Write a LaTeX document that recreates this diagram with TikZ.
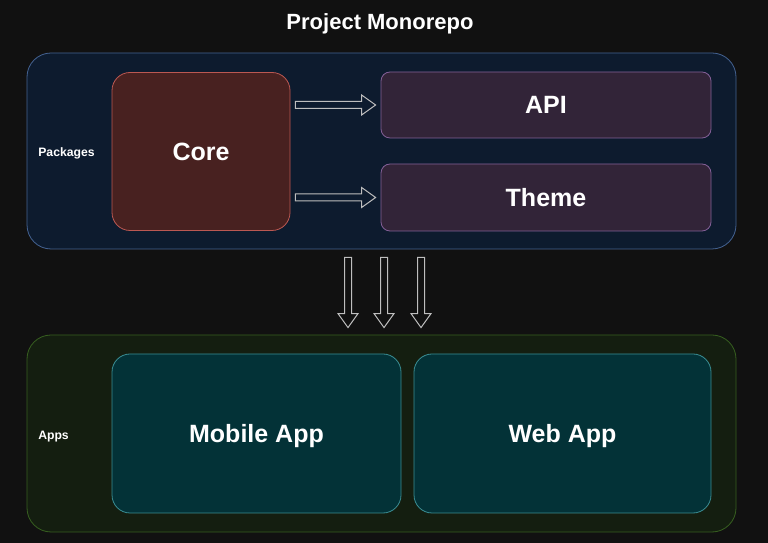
\documentclass[tikz,border=0pt]{standalone}
\usepackage{fontspec}
\setmainfont{Liberation Sans}
\usepackage{tikz}
\usepackage{xcolor}
\usetikzlibrary{arrows.meta,positioning,calc}
\definecolor{bgdark}{RGB}{17,17,17}
\definecolor{pkgfill}{RGB}{13,27,46}
\definecolor{pkgline}{RGB}{68,98,145}
\definecolor{corefill}{RGB}{72,33,32}
\definecolor{coreline}{RGB}{188,88,82}
\definecolor{modfill}{RGB}{50,36,56}
\definecolor{modline}{RGB}{132,96,152}
\definecolor{appsfill}{RGB}{20,30,16}
\definecolor{appsline}{RGB}{55,95,32}
\definecolor{appfill}{RGB}{3,50,55}
\definecolor{appline}{RGB}{58,142,148}
\definecolor{arrowgray}{RGB}{190,190,190}
\newcommand{\hollowarrow}[2]{%
  \coordinate (hs) at (#1);
  \coordinate (he) at (#2);
  \coordinate (hb) at ($(he)!14pt!(hs)$);
  \draw[arrowline] ($(hs)!3.5pt!90:(he)$) -- ($(hb)!3.5pt!90:(he)$) -- ($(hb)!10pt!90:(he)$) -- (he)
    -- ($(hb)!10pt!-90:(he)$) -- ($(hb)!3.5pt!-90:(he)$) -- ($(hs)!3.5pt!-90:(he)$) -- cycle;
}
\tikzset{
  group/.style={draw,line width=0.8pt,rounded corners=24pt,inner sep=0pt},
  box/.style={draw,line width=0.8pt,inner sep=0pt,text=white,text depth=0pt,font=\bfseries\fontsize{25}{30}\selectfont},
  grouplabel/.style={text=white,text depth=0pt,font=\bfseries\fontsize{12.2}{14}\selectfont},
  arrowline/.style={draw=arrowgray,line width=1pt,line join=miter}
}

\begin{document}
\begin{tikzpicture}[x=1pt,y=1pt]
\fill[bgdark] (0,0) rectangle (768,543);
\useasboundingbox (0,0) rectangle (768,543);
\node[text=white,text depth=0pt,font=\bfseries\fontsize{22}{26}\selectfont] (title) at (380,521) {Project Monorepo};

% packages
\node[group,fill=pkgfill,draw=pkgline,minimum width=709,minimum height=196] (pkgs) at (381.5,392) {};
\node[grouplabel] (pkglabel) at (66.5,391) {Packages};
\node[box,fill=corefill,draw=coreline,rounded corners=18pt,minimum width=178,minimum height=158] (core) at (201,391.5) {Core};
\node[box,fill=modfill,draw=modline,rounded corners=9pt,minimum width=330,minimum height=66] (api) at (546,438) {API};
\node[box,fill=modfill,draw=modline,rounded corners=9pt,minimum width=330,minimum height=67] (theme) at (546,345.5) {Theme};

% apps
\node[group,fill=appsfill,draw=appsline,minimum width=709,minimum height=197] (apps) at (381.5,109.5) {};
\node[grouplabel] (appslabel) at (53.5,108) {Apps};
\node[box,fill=appfill,draw=appline,rounded corners=18pt,minimum width=289,minimum height=159] (mobile) at (256.5,109.5) {Mobile App};
\node[box,fill=appfill,draw=appline,rounded corners=18pt,minimum width=297,minimum height=159] (web) at (562.5,109.5) {Web App};

% arrows
\hollowarrow{$(core.east |- api.west)+(5,0)$}{$(api.west)+(-5,0)$}
\hollowarrow{$(core.east |- theme.west)+(5,0)$}{$(theme.west)+(-5,0)$}
\foreach \dx in {-33.5,2.5,39.5}{
  \hollowarrow{$(pkgs.south)+(\dx,-8)$}{$(apps.north)+(\dx,7)$}
}
\end{tikzpicture}
\end{document}
